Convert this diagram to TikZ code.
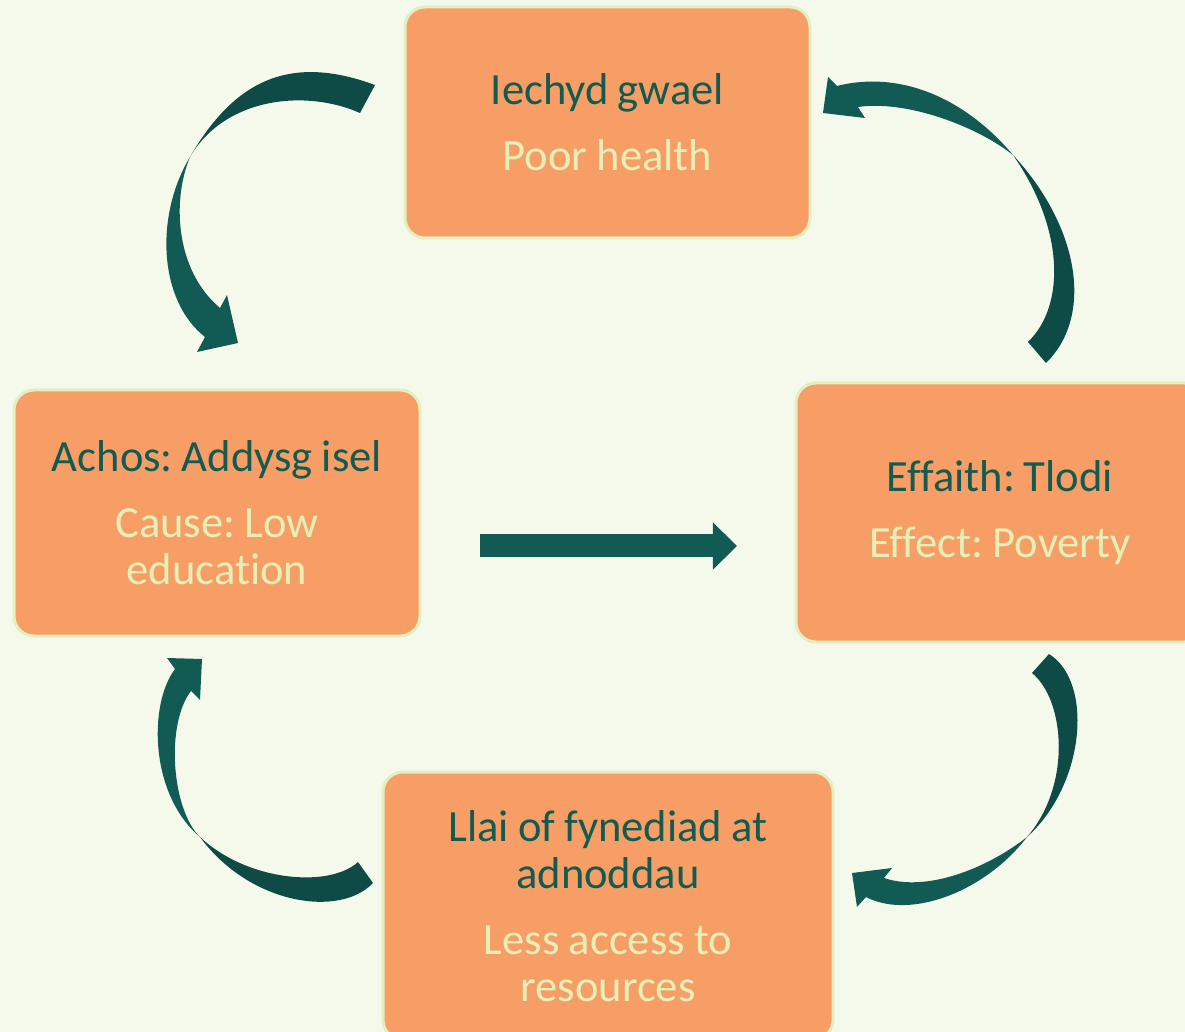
\documentclass[tikz,border=0pt]{standalone}
\usepackage{fontspec}
\setmainfont{Carlito}[Ligatures=NoCommon, WordSpace=0.9]
\usepackage{tikz}
\usetikzlibrary{arrows.meta}
\definecolor{bgcream}{HTML}{F5F9EB}
\definecolor{boxorange}{HTML}{F79E66}
\definecolor{boxedge}{HTML}{E2EFC0}
\definecolor{textteal}{HTML}{135A50}
\definecolor{textpale}{HTML}{E6F0B6}
\definecolor{arrowdark}{HTML}{0E4A46}
\definecolor{arrowteal}{HTML}{115B54}
\newcommand{\cyclefont}{\frenchspacing\fontsize{22.3}{23.5}\selectfont}
\newcommand{\paragap}{\\[9.5pt]}
\tikzstyle{stage}=[draw=boxedge, line width=1.5pt, fill=boxorange, rounded corners=10pt,
                   inner sep=0, outer sep=0, align=center, font=\cyclefont, text=textteal]
\tikzstyle{flowline}=[draw=arrowteal, line width=11.5pt, -{Triangle[width=0pt 2, length=0pt 1.05]}]
\tikzstyle{twistback}=[fill=arrowdark]
\tikzstyle{twistfront}=[fill=arrowteal]

\begin{document}
\begin{tikzpicture}[x=0.5pt, y=-0.5pt]
        \useasboundingbox (0, 0) rectangle (1185, 1032);
        \fill[bgcream] (0, 0) rectangle (1185, 1032);
        % the four stages
        \node[stage, minimum width=202.5pt, minimum height=115.5pt] (iechyd) at (607.5, 122.5)
            {Iechyd gwael\paragap\color{textpale}Poor health};
        \node[stage, minimum width=203pt, minimum height=123pt] (achos) at (217, 513)
            {Achos: Addysg isel\paragap\color{textpale}Cause: Low\\\color{textpale}education};
        \node[stage, minimum width=204pt, minimum height=129.5pt] (effaith) at (1000, 512.5)
            {Effaith: Tlodi\paragap\color{textpale}Effect: Poverty};
        \node[stage, minimum width=225pt, minimum height=134pt] (adnoddau) at (608, 906)
            {Llai of fynediad at\\adnoddau\paragap\color{textpale}Less access to\\\color{textpale}resources};
        \draw[flowline] ([xshift=30pt, yshift=-16.5pt]achos.east) -- ([xshift=-29.5pt, yshift=-16.75pt]effaith.west);
        % curved arrows, back half then front half
        \fill[twistback] (375, 85) .. controls (291, 54) and (235, 79) .. (190, 157)
            .. controls (225, 97) and (306, 89) .. (360, 113) -- cycle;
        \fill[twistfront] (190, 157) .. controls (155, 215) and (158, 300) .. (205, 337)
            -- (197, 352) -- (238, 343) -- (227, 295) -- (220, 308)
            .. controls (175, 270) and (172, 200) .. (190, 157) -- cycle;
        \fill[twistback] (1046, 363) .. controls (1095, 315) and (1078, 225) .. (1013, 155)
            .. controls (1064, 228) and (1066, 305) .. (1028, 342) -- cycle;
        \fill[twistfront] (1013, 155) .. controls (965, 98) and (900, 70) .. (837, 86)
            -- (828, 77) -- (823, 113) -- (865, 118) -- (858, 107)
            .. controls (905, 100) and (975, 125) .. (1013, 155) -- cycle;
        \fill[twistback] (1049, 654) .. controls (1094, 682) and (1085, 785) .. (1027, 837)
            .. controls (1072, 785) and (1065, 700) .. (1032, 673) -- cycle;
        \fill[twistfront] (1027, 837) .. controls (985, 892) and (910, 920) .. (866, 897)
            -- (857, 907) -- (852, 873) -- (892, 868) -- (884, 878)
            .. controls (925, 892) and (985, 870) .. (1027, 837) -- cycle;
        \fill[twistback] (373, 883) .. controls (340, 918) and (250, 905) .. (200, 837)
            .. controls (248, 882) and (330, 888) .. (358, 862) -- cycle;
        \fill[twistfront] (200, 837) .. controls (150, 795) and (148, 705) .. (175, 669)
            -- (167, 658) -- (202, 659) -- (200, 700) -- (191, 691)
            .. controls (165, 725) and (172, 810) .. (200, 837) -- cycle;
    \end{tikzpicture}
\end{document}
